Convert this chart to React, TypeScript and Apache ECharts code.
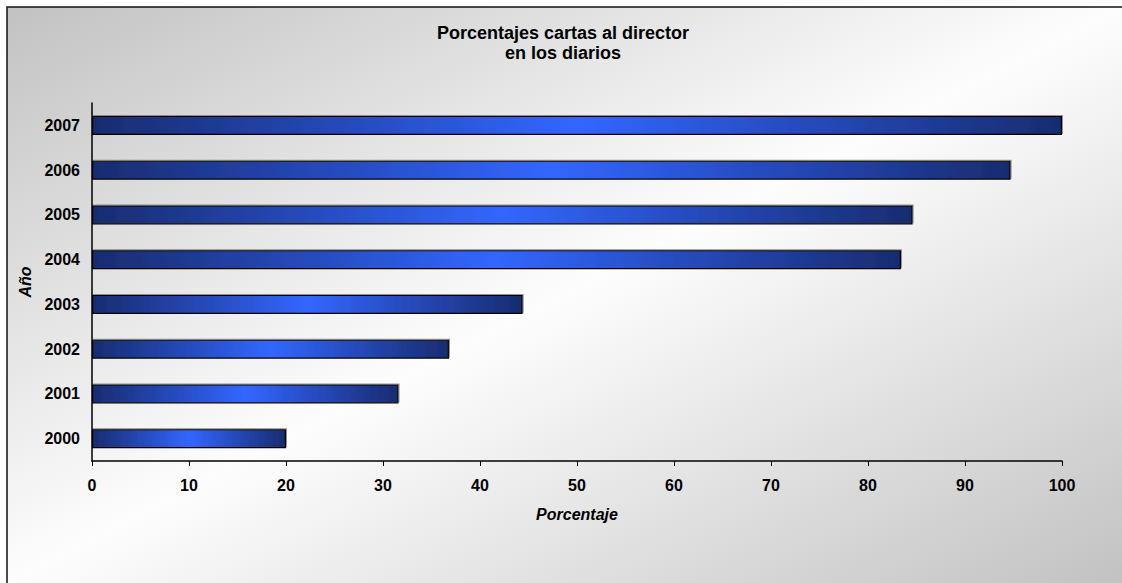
import React, { useEffect, useRef } from "react";
import * as echarts from "echarts";

const years = ["2000", "2001", "2002", "2003", "2004", "2005", "2006", "2007"];
const percentages = [20, 31.6, 36.8, 44.4, 83.4, 84.6, 94.7, 100];
const xTicks = { min: 0, max: 100, interval: 10 };

const FONT = "'Liberation Sans', Arial, sans-serif";

export default function App() {
  const ref = useRef<HTMLDivElement>(null);
  useEffect(() => {
    if (!ref.current) return;
    const chart = echarts.init(ref.current, undefined, { renderer: "svg" });
    chart.setOption({
      animation: false,
      backgroundColor: "#ffffff",
      graphic: [
        {
          type: "rect",
          z: -10,
          silent: true,
          shape: { x: 7, y: 7, width: 1115, height: 576 },
          style: {
            fill: new echarts.graphic.LinearGradient(0, 0, 1, 1, [
              { offset: 0, color: "#c2c2c2" },
              { offset: 0.5, color: "#fdfdfd" },
              { offset: 1, color: "#c2c2c2" },
            ]),
          },
        },
        {
          type: "polyline",
          z: -9,
          silent: true,
          shape: { points: [[7, 583], [7, 7], [1122, 7]] },
          style: { stroke: "#111", lineWidth: 1.5, fill: "none" },
        },
      ],
      title: {
        text: "Porcentajes cartas al director\nen los diarios",
        left: 558,
        textAlign: "center",
        top: 18,
        textStyle: {
          fontFamily: FONT,
          fontSize: 18,
          fontWeight: "bold",
          lineHeight: 20,
          color: "#000",
        },
      },
      grid: { left: 92, right: 60, top: 103, bottom: 122, containLabel: false },
      xAxis: {
        type: "value",
        min: xTicks.min,
        max: xTicks.max,
        interval: xTicks.interval,
        name: "Porcentaje",
        nameLocation: "middle",
        nameGap: 45,
        nameTextStyle: {
          fontFamily: FONT,
          fontSize: 16,
          fontWeight: "bold",
          fontStyle: "italic",
          color: "#000",
        },
        axisLine: { show: true, lineStyle: { color: "#000", width: 1.5 } },
        axisTick: { show: true, length: 5, lineStyle: { color: "#000" } },
        splitLine: { show: false },
        axisLabel: {
          fontFamily: FONT,
          fontSize: 16,
          fontWeight: "bold",
          color: "#000",
          margin: 16,
        },
      },
      yAxis: {
        type: "category",
        data: years,
        name: "Año",
        nameLocation: "middle",
        nameRotate: 90,
        nameGap: 55,
        nameTextStyle: {
          fontFamily: FONT,
          fontSize: 16,
          fontWeight: "bold",
          fontStyle: "italic",
          color: "#000",
        },
        axisLine: { show: true, lineStyle: { color: "#000", width: 1.5 } },
        axisTick: { show: false },
        axisLabel: {
          fontFamily: FONT,
          fontSize: 16,
          fontWeight: "bold",
          color: "#000",
          margin: 12,
        },
      },
      series: [
        {
          type: "bar",
          data: percentages,
          barWidth: 19,
          itemStyle: {
            color: new echarts.graphic.LinearGradient(0, 0, 1, 0, [
              { offset: 0, color: "#182c70" },
              { offset: 0.5, color: "#3366ff" },
              { offset: 1, color: "#182c70" },
            ]),
            borderColor: "#000",
            borderWidth: 1.2,
            shadowColor: "rgba(120,120,120,0.8)",
            shadowOffsetX: 1,
            shadowOffsetY: -1,
            shadowBlur: 0,
          },
        },
      ],
    });
    return () => chart.dispose();
  }, []);
  return (
    <div
      ref={ref}
      style={{ position: "absolute", left: 0, top: 0, width: 1122, height: 583, overflow: "hidden" }}
    />
  );
}
